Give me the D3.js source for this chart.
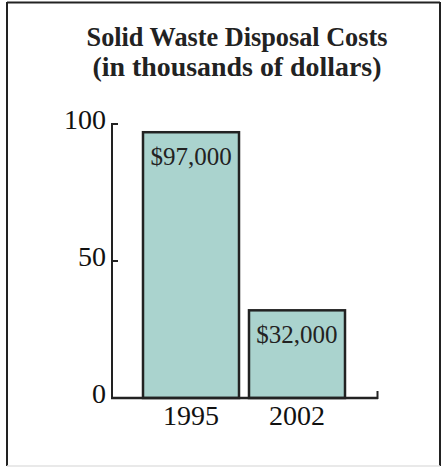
<!DOCTYPE html>
<html>
<head>
<meta charset="utf-8">
<script src="https://cdn.jsdelivr.net/npm/d3@7"></script>
<style>
  html, body { margin: 0; padding: 0; background: #fff; }
  svg { display: block; }
</style>
</head>
<body>
<script>
// Data
const years = ["1995", "2002"];
const costs = [97, 32];              // thousands of dollars
const valueLabels = ["$97,000", "$32,000"];
const yTicks = [0, 50, 100];
const titleLines = ["Solid Waste Disposal Costs", "(in thousands of dollars)"];

const W = 442, H = 467;
const svg = d3.select("body").append("svg").attr("width", W).attr("height", H);

// Frame
svg.append("line").attr("x1", 7).attr("y1", 2.5).attr("x2", 440).attr("y2", 2.5)
  .attr("stroke", "#222").attr("stroke-width", 2);
svg.append("line").attr("x1", 7).attr("y1", 2).attr("x2", 7).attr("y2", 466)
  .attr("stroke", "#222").attr("stroke-width", 2);
svg.append("line").attr("x1", 440).attr("y1", 2).attr("x2", 440).attr("y2", 466)
  .attr("stroke", "#222").attr("stroke-width", 2);
svg.append("line").attr("x1", 7).attr("y1", 466).attr("x2", 440).attr("y2", 466)
  .attr("stroke", "#e2e2e2").attr("stroke-width", 1.5);

// Title
const serif = "'Liberation Serif', 'DejaVu Serif', serif";
const titleWidths = [301, 289];
const titleBaselines = [46, 76];
titleLines.forEach((t, i) => {
  const el = svg.append("text")
    .attr("x", 237).attr("y", titleBaselines[i])
    .attr("text-anchor", "middle")
    .attr("font-family", serif).attr("font-weight", "bold")
    .attr("font-size", 24).attr("fill", "#222")
    .text(t);
  const w = el.node().getComputedTextLength();
  el.attr("font-size", 24 * titleWidths[i] / w);
});

// Scales
const x = d3.scaleBand().domain(years).range([138, 350])
  .paddingInner(0.0943).paddingOuter(0.0472);
const y = d3.scaleLinear().domain([0, 100]).range([398, 124]);

const axisX = 112;
const ink = "#222";

// Bars
svg.selectAll("rect.bar").data(years).enter().append("rect")
  .attr("class", "bar")
  .attr("x", d => x(d))
  .attr("y", (d, i) => y(costs[i]))
  .attr("width", x.bandwidth())
  .attr("height", (d, i) => y(0) - y(costs[i]))
  .attr("fill", "#aad3ce")
  .attr("stroke", ink).attr("stroke-width", 2.5);

// Value labels
svg.selectAll("text.val").data(years).enter().append("text")
  .attr("class", "val")
  .attr("x", d => x(d) + x.bandwidth() / 2)
  .attr("y", (d, i) => y(costs[i]) + 33)
  .attr("text-anchor", "middle")
  .attr("font-family", serif).attr("font-size", 25).attr("fill", "#222")
  .text((d, i) => valueLabels[i]);

// Y axis
svg.append("line").attr("x1", axisX).attr("y1", y(100)).attr("x2", axisX).attr("y2", y(0) + 1)
  .attr("stroke", ink).attr("stroke-width", 2);
svg.selectAll("line.ytick").data(yTicks.filter(d => d > 0)).enter().append("line")
  .attr("class", "ytick")
  .attr("x1", axisX - 1).attr("x2", axisX + 6)
  .attr("y1", d => y(d)).attr("y2", d => y(d))
  .attr("stroke", ink).attr("stroke-width", 2);
svg.selectAll("text.ylab").data(yTicks).enter().append("text")
  .attr("class", "ylab")
  .attr("x", 106).attr("y", d => y(d) + 4.5)
  .attr("text-anchor", "end")
  .attr("font-family", serif).attr("font-size", 28).attr("fill", "#111")
  .text(d => d);

// X axis
svg.append("line").attr("x1", axisX - 1).attr("y1", y(0)).attr("x2", 378).attr("y2", y(0))
  .attr("stroke", ink).attr("stroke-width", 2.5);
svg.append("line").attr("x1", 377.5).attr("y1", y(0) + 1).attr("x2", 377.5).attr("y2", y(0) - 7)
  .attr("stroke", ink).attr("stroke-width", 2);

// Year labels
svg.selectAll("text.xlab").data(years).enter().append("text")
  .attr("class", "xlab")
  .attr("x", d => x(d) + x.bandwidth() / 2)
  .attr("y", 425)
  .attr("text-anchor", "middle")
  .attr("font-family", serif).attr("font-size", 28).attr("fill", "#111")
  .text(d => d);
</script>
</body>
</html>
